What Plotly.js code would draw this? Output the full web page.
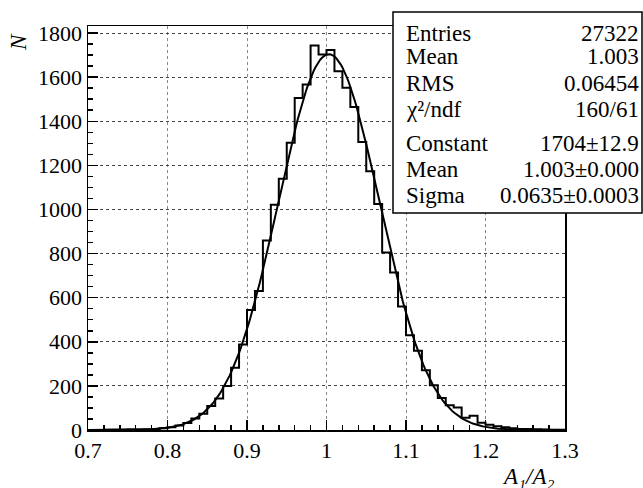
<!DOCTYPE html>
<html>
<head>
<meta charset="utf-8">
<script src="https://cdn.plot.ly/plotly-3.0.1.min.js"></script>
<style>
html,body{margin:0;padding:0;background:#fff;}
#chart{width:643px;height:488px;}
</style>
</head>
<body>
<div id="chart"></div>
<script>
// Histogram: bin lower edges (0.70 .. 1.29, width 0.01) and counts
const binEdgesLow = [0.70,0.71,0.72,0.73,0.74,0.75,0.76,0.77,0.78,0.79,
  0.80,0.81,0.82,0.83,0.84,0.85,0.86,0.87,0.88,0.89,
  0.90,0.91,0.92,0.93,0.94,0.95,0.96,0.97,0.98,0.99,
  1.00,1.01,1.02,1.03,1.04,1.05,1.06,1.07,1.08,1.09,
  1.10,1.11,1.12,1.13,1.14,1.15,1.16,1.17,1.18,1.19,
  1.20,1.21,1.22,1.23,1.24,1.25,1.26,1.27,1.28,1.29];
const binCounts = [0,0,1,1,1,2,2,3,5,8,
  12,20,32,52,74,109,143,200,282,388,
  544,630,859,1021,1139,1303,1506,1567,1744,1703,
  1723,1627,1552,1465,1306,1173,1025,805,714,560,
  430,359,271,203,145,112,102,55,65,33,
  24,17,13,8,5,4,3,2,1,1];
const lastEdge = 1.30;

// Gaussian fit parameters (from the stats box)
const fitConstant = 1704;
const fitMean = 1.003;
const fitSigma = 0.0635;

// Stats box text
const statsLabels = ["Entries","Mean","RMS","\u03c7\u00b2/ndf","Constant","Mean","Sigma"];
const statsValues = ["27322","1.003","0.06454","160/61","1704\u00b112.9","1.003\u00b10.000","0.0635\u00b10.0003"];

// Axis ticks
const xTickVals = [0.7,0.8,0.9,1.0,1.1,1.2,1.3];
const xTickText = ["0.7","0.8","0.9","1","1.1","1.2","1.3"];
const yTickVals = [0,200,400,600,800,1000,1200,1400,1600,1800];

// step line of the histogram
const hx = [binEdgesLow[0]].concat(binEdgesLow, [lastEdge]);
const hy = [0].concat(binCounts, [binCounts[binCounts.length-1]]);

// fit curve
const fx = [], fy = [];
for (let i = 0; i <= 300; i++) {
  const x = 0.7 + i * 0.002;
  fx.push(x);
  fy.push(fitConstant * Math.exp(-0.5 * Math.pow((x - fitMean) / fitSigma, 2)));
}

const W = 643, H = 488;
const mL = 88, mR = 78, mT = 26, mB = 58;
const pw = W - mL - mR, ph = H - mT - mB;
const px2x = p => (p - mL) / pw;
const py2y = p => (H - mB - p) / ph;

const FONT = "Tinos";

const traces = [
  {x: hx, y: hy, type: 'scatter', mode: 'lines', line: {shape: 'hv', color: '#000', width: 2}, hoverinfo: 'skip'},
  {x: fx, y: fy, type: 'scatter', mode: 'lines', line: {color: '#000', width: 2}, hoverinfo: 'skip'}
];

const rowY = [33, 57, 83, 110, 143, 169, 195];
const annotations = [];
statsLabels.forEach((t, i) => {
  annotations.push({xref: 'paper', yref: 'paper', x: px2x(404), y: py2y(rowY[i]), xanchor: 'left', yanchor: 'middle',
    text: t, showarrow: false, font: {family: FONT, size: 23, color: '#000'}});
  annotations.push({xref: 'paper', yref: 'paper', x: px2x(641), y: py2y(rowY[i]), xanchor: 'right', yanchor: 'middle',
    text: statsValues[i], showarrow: false, font: {family: FONT, size: 23, color: '#000'}});
});
annotations.push({xref: 'paper', yref: 'paper', x: px2x(556), y: py2y(476), xanchor: 'right', yanchor: 'middle',
  text: "A\u2081/A\u2082", showarrow: false, font: {family: FONT, size: 23, color: '#000', style: 'italic'}});
annotations.push({xref: 'paper', yref: 'paper', x: px2x(18), y: py2y(42), xanchor: 'center', yanchor: 'middle',
  text: "N", textangle: -90, showarrow: false, font: {family: FONT, size: 23, color: '#000', style: 'italic'}});

const layout = {
  width: W, height: H,
  font: {family: FONT, color: '#000'},
  margin: {l: mL, r: mR, t: mT, b: mB, pad: 0},
  paper_bgcolor: '#fff', plot_bgcolor: '#fff',
  showlegend: false,
  xaxis: {
    range: [0.7, 1.3], tickvals: xTickVals, ticktext: xTickText,
    ticks: 'inside', ticklen: 10, tickwidth: 1.5, tickcolor: '#000',
    minor: {dtick: 0.02, tick0: 0.7, ticks: 'inside', ticklen: 5, tickwidth: 1.5, tickcolor: '#000', showgrid: false},
    showline: true, linecolor: '#000', linewidth: 1.5, mirror: true,
    showgrid: true, gridcolor: '#888', griddash: 'dot', gridwidth: 1,
    zeroline: false,
    tickfont: {family: FONT, size: 22, color: '#000'}
  },
  yaxis: {
    range: [0, 1832], tickvals: yTickVals,
    ticks: 'inside', ticklen: 10, tickwidth: 1.5, tickcolor: '#000',
    minor: {dtick: 50, tick0: 0, ticks: 'inside', ticklen: 5, tickwidth: 1.5, tickcolor: '#000', showgrid: false},
    showline: true, linecolor: '#000', linewidth: 1.5, mirror: true,
    showgrid: true, gridcolor: '#444', griddash: 'dot', gridwidth: 1,
    zeroline: false,
    tickfont: {family: FONT, size: 22, color: '#000'}
  },
  shapes: [{type: 'rect', xref: 'paper', yref: 'paper', layer: 'above',
    x0: px2x(393), x1: px2x(642), y0: py2y(213), y1: py2y(12),
    line: {color: '#000', width: 1.5}, fillcolor: '#fff'}],
  annotations: annotations
};

Plotly.newPlot('chart', traces, layout, {displayModeBar: false, staticPlot: true});
</script>
</body>
</html>
